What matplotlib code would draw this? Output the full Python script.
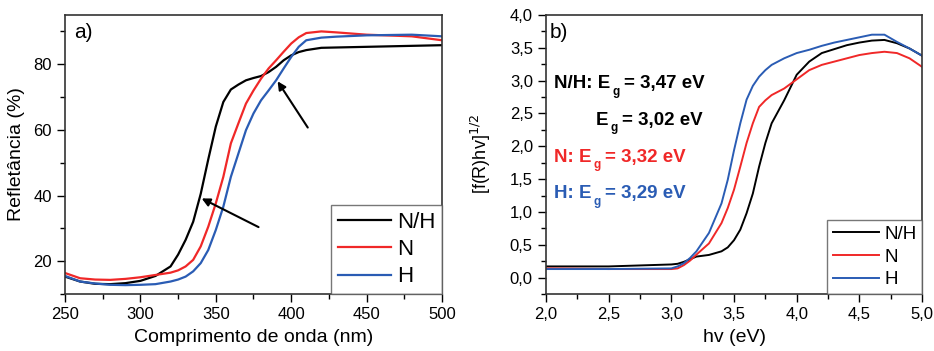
import numpy as np
import matplotlib.pyplot as plt
from matplotlib.ticker import MultipleLocator, FuncFormatter

plt.rcParams['font.family'] = ['Liberation Sans', 'DejaVu Sans']

# a) refletancia vs comprimento de onda
wl = [250, 260, 270, 280, 290, 300, 310, 320, 325, 330, 335, 340, 345, 350, 355,
      360, 365, 370, 375, 380, 385, 390, 395, 400, 405, 410, 420, 430, 450, 480, 500]
r_nh = [15.3, 13.8, 13.1, 13.0, 13.3, 14.0, 15.5, 18.4, 22.0, 26.5, 32.0, 40.5, 51.0, 61.0, 68.5,
        72.3, 73.8, 75.1, 75.8, 76.4, 77.6, 79.2, 81.2, 82.7, 83.7, 84.3, 85.0, 85.1, 85.3, 85.6, 85.8]
r_n = [16.4, 14.8, 14.4, 14.3, 14.6, 15.1, 15.8, 16.5, 17.2, 18.4, 20.4, 24.5, 30.5, 37.6, 45.7,
       55.9, 62.0, 68.0, 72.0, 75.6, 78.7, 81.2, 83.8, 86.3, 88.2, 89.5, 90.0, 89.7, 89.0, 88.5, 87.3]
r_h = [15.5, 13.8, 13.2, 12.8, 12.7, 12.8, 13.0, 13.8, 14.4, 15.3, 16.9, 19.4, 23.4, 29.5, 36.6,
       45.7, 52.8, 59.9, 65.0, 69.0, 72.0, 75.1, 78.7, 82.2, 85.3, 87.3, 88.1, 88.4, 88.8, 89.0, 88.5]

# b) Kubelka-Munk vs energia
hv = [2.0, 2.5, 3.0, 3.05, 3.1, 3.15, 3.2, 3.3, 3.4, 3.45, 3.5, 3.55, 3.6, 3.65, 3.7, 3.75,
      3.8, 3.9, 4.0, 4.1, 4.2, 4.3, 4.4, 4.5, 4.6, 4.7, 4.8, 4.9, 5.0]
k_nh = [0.17, 0.17, 0.20, 0.21, 0.24, 0.28, 0.32, 0.345, 0.40, 0.46, 0.57, 0.73, 0.98, 1.28, 1.69, 2.05,
        2.35, 2.70, 3.09, 3.29, 3.42, 3.48, 3.54, 3.58, 3.61, 3.62, 3.57, 3.49, 3.38]
k_n = [0.14, 0.13, 0.13, 0.14, 0.19, 0.26, 0.35, 0.52, 0.83, 1.06, 1.34, 1.69, 2.05, 2.35, 2.60, 2.70,
       2.78, 2.88, 3.02, 3.16, 3.24, 3.29, 3.34, 3.39, 3.42, 3.44, 3.42, 3.34, 3.21]
k_h = [0.13, 0.13, 0.14, 0.17, 0.22, 0.30, 0.40, 0.68, 1.13, 1.49, 1.94, 2.35, 2.71, 2.92, 3.06, 3.16,
       3.24, 3.34, 3.42, 3.47, 3.53, 3.58, 3.62, 3.66, 3.70, 3.70, 3.59, 3.49, 3.38]

labels = ['N/H', 'N', 'H']
colors = ['black', '#f02828', '#2a5cb4']

# band gap labels
eg_prefix = ['N/H: E', 'E', 'N: E', 'H: E']
eg_value = ['= 3,47 eV', '= 3,02 eV', '= 3,32 eV', '= 3,29 eV']
eg_color = ['black', 'black', colors[1], colors[2]]
eg_x = [2.064, 2.40, 2.064, 2.064]
eg_y = [2.89, 2.33, 1.767, 1.21]

fig = plt.figure(figsize=(9.34, 3.51), dpi=100)
ax1 = fig.add_axes([0.0696, 0.1624, 0.4036, 0.7949])
ax2 = fig.add_axes([0.5846, 0.1624, 0.4026, 0.7949])

for ys, lab, c in zip([r_nh, r_n, r_h], labels, colors):
    ax1.plot(wl, ys, color=c, lw=1.6, label=lab)
for ys, lab, c in zip([k_nh, k_n, k_h], labels, colors):
    ax2.plot(hv, ys, color=c, lw=1.4, label=lab)

ax1.set_xlim(250, 500)
ax1.set_ylim(10, 95)
ax1.xaxis.set_major_locator(MultipleLocator(50))
ax1.xaxis.set_minor_locator(MultipleLocator(25))
ax1.yaxis.set_major_locator(MultipleLocator(20))
ax1.yaxis.set_minor_locator(MultipleLocator(10))
ax1.set_xlabel('Comprimento de onda (nm)', fontsize=14, labelpad=5)
ax1.set_ylabel('Refletância (%)', fontsize=14, labelpad=6)
ax1.text(0.025, 0.97, 'a)', transform=ax1.transAxes, fontsize=15, va='top')

# setas indicando as bordas de absorcao
ax1.annotate('', xy=(339, 39.5), xytext=(380, 30),
             arrowprops=dict(arrowstyle='-|>', color='black', lw=1.5, mutation_scale=12))
ax1.annotate('', xy=(390, 75.5), xytext=(412, 60),
             arrowprops=dict(arrowstyle='-|>', color='black', lw=1.5, mutation_scale=12))

ax2.set_xlim(2.0, 5.0)
ax2.set_ylim(-0.25, 4.0)
ax2.xaxis.set_major_locator(MultipleLocator(0.5))
ax2.xaxis.set_minor_locator(MultipleLocator(0.25))
ax2.yaxis.set_major_locator(MultipleLocator(0.5))
ax2.yaxis.set_minor_locator(MultipleLocator(0.25))
comma = FuncFormatter(lambda v, p: f'{v:.1f}'.replace('.', ','))
ax2.xaxis.set_major_formatter(comma)
ax2.yaxis.set_major_formatter(comma)
ax2.set_xlabel('hv (eV)', fontsize=14, labelpad=5)
ax2.set_ylabel(r'[f(R)hv]$^{1/2}$', fontsize=13, labelpad=12)
ax2.text(0.01, 0.97, 'b)', transform=ax2.transAxes, fontsize=15, va='top')

fs = 13.5
for pre, val, c, x, y in zip(eg_prefix, eg_value, eg_color, eg_x, eg_y):
    t1 = ax2.text(x, y, pre, fontsize=fs, fontweight='bold', color=c, va='baseline')
    t2 = ax2.annotate('g', xy=(1, 0), xycoords=t1, xytext=(1.5, 4.5), textcoords='offset points',
                      fontsize=8.5, fontweight='bold', color=c, va='top', ha='left')
    ax2.annotate(val, xy=(1, 0), xycoords=(t2, t1), xytext=(3, 0), textcoords='offset points',
                 fontsize=fs, fontweight='bold', color=c, va='bottom', ha='left')

for ax in (ax1, ax2):
    ax.tick_params(which='major', direction='out', length=6, width=1, labelsize=12)
    ax.tick_params(which='minor', direction='out', length=3.5, width=1)
    for sp in ax.spines.values():
        sp.set_linewidth(1.2)
        sp.set_color('#333333')

ax1.legend(loc='lower right', fontsize=16, frameon=True, fancybox=False, edgecolor='#555555',
           borderaxespad=0, handlelength=2.4, handletextpad=0.25, labelspacing=0.28, borderpad=0.3)
ax2.legend(loc='lower right', fontsize=13.5, frameon=True, fancybox=False, edgecolor='#555555',
           borderaxespad=0, handlelength=2.5, handletextpad=0.25, labelspacing=0.3, borderpad=0.3)

plt.savefig('out.png', dpi=100)
